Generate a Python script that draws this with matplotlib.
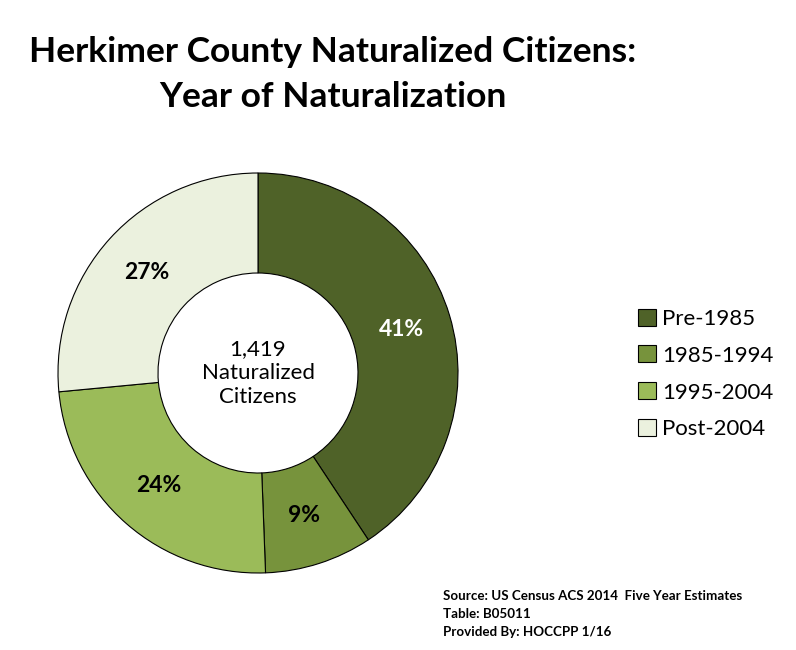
import matplotlib
matplotlib.use("Agg")
import matplotlib.pyplot as plt

# Data
categories = ["Pre-1985", "1985-1994", "1995-2004", "Post-2004"]
shares = [40.7, 8.7, 24.1, 26.5]
pct_labels = ["41%", "9%", "24%", "27%"]
colors = ["#4F6228", "#77933C", "#9BBB59", "#EBF1DE"]
label_colors = ["white", "black", "black", "black"]
center_text = "1,419\nNaturalized\nCitizens"
title_lines = ["Herkimer County Naturalized Citizens:", "Year of Naturalization"]
source_lines = ["Source: US Census ACS 2014  Five Year Estimates",
                "Table: B05011",
                "Provided By: HOCCPP 1/16"]

plt.rcParams['font.family'] = ['Lato', 'DejaVu Sans']

W, H = 796, 650
fig = plt.figure(figsize=(W / 100, H / 100), dpi=100)
fig.patch.set_facecolor("white")

def fx(px):
    return px / W

def fy(py):
    return 1 - py / H

# Donut axes: center (258,373), radius 200 px
cx, cy, R = 258, 373, 200
ax = fig.add_axes([fx(cx - R), fy(cy + R), 2 * R / W, 2 * R / H])
wedges, texts = ax.pie(shares, colors=colors, startangle=90, counterclock=False,
                       labels=pct_labels, labeldistance=0.75,
                       wedgeprops=dict(width=0.5, edgecolor="black", linewidth=0.8),
                       textprops=dict(fontsize=16.5, fontweight="bold", ha="center", va="center"))
for t, c in zip(texts, label_colors):
    t.set_color(c)
ax.set_xlim(-1, 1)
ax.set_ylim(-1, 1)
ax.set_aspect("equal")
ax.axis("off")

ax.text(0, 0, center_text, ha="center", va="center", fontsize=16,
        linespacing=1.25, color="black")

# Title
fig.text(fx(333), fy(52), title_lines[0], ha="center", va="center",
         fontsize=25.5, fontweight="bold")
fig.text(fx(333), fy(97), title_lines[1], ha="center", va="center",
         fontsize=25.5, fontweight="bold")

# Legend
leg = fig.legend(wedges, categories, loc="center left",
                 bbox_to_anchor=(fx(618), fy(374)), frameon=False,
                 fontsize=16, handlelength=0.8, handleheight=0.8,
                 handletextpad=0.3, labelspacing=0.75)

# Source
for i, line in enumerate(source_lines):
    fig.text(fx(443), fy(596 + i * 18), line, ha="left", va="center",
             fontsize=9.6, fontweight="bold")

fig.savefig("out.png", dpi=100)
